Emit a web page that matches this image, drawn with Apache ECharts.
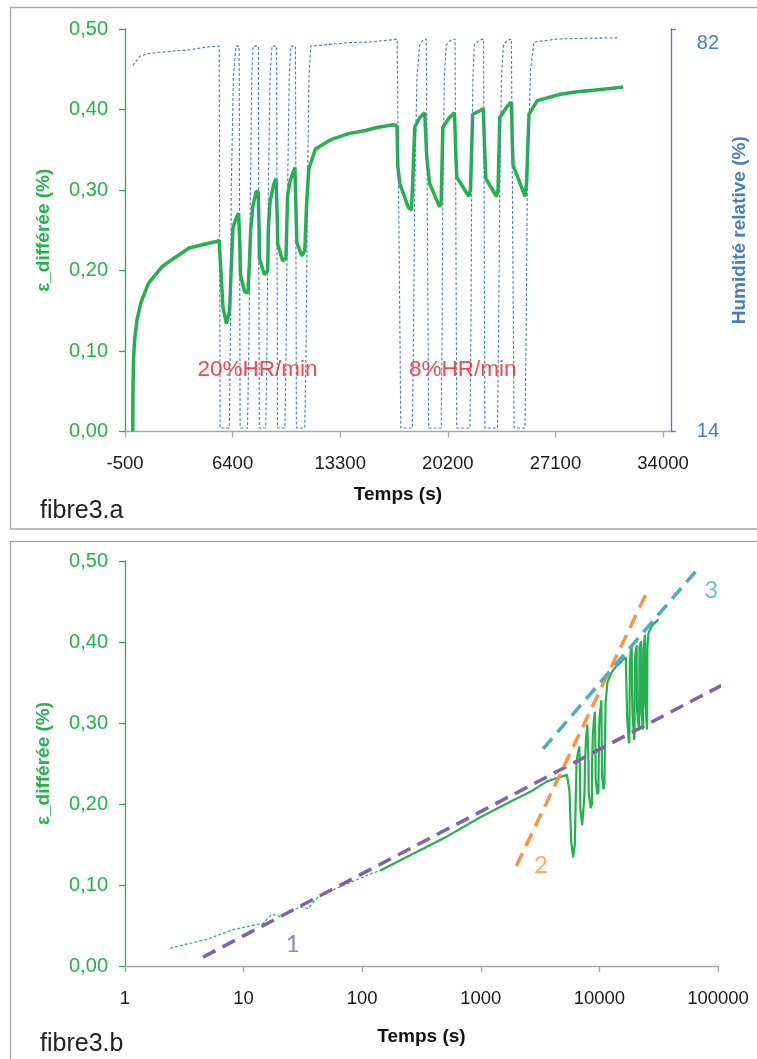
<!DOCTYPE html>
<html><head><meta charset="utf-8">
<script src="https://cdn.jsdelivr.net/npm/echarts@6/dist/echarts.min.js"></script>
<style>html,body{margin:0;padding:0;background:#fff}#c{width:757px;height:1059px}</style>
</head><body><div id="c"></div>
<script>
// ---------- DATA ----------
// Strain (ε_différée, %) versus time (s)
const strainTime = [0, 2.4, 4.9, 8.2, 14.7, 17.3, 20.3, 30, 35, 41.5, 57, 110, 142, 271, 519, 1000, 1890, 2618, 3614, 5330, 5540,
  5600, 5786, 6000, 6206, 6315, 6423, 6600, 6780,
  6860, 6900, 7162, 7378, 7480, 7560, 7700, 7907, 8040,
  8100, 8117, 8436, 8652, 8691, 8800, 9000, 9181, 9230,
  9270, 9290, 9608, 9818, 9926, 10100, 10391, 10440,
  10470, 10518, 10837, 11028, 11150, 11283, 11710, 12748, 13830, 14894, 15741, 16696, 16940,
  16990, 17123, 17652, 17862, 17926, 18079, 18400, 18716, 18800,
  18850, 19034, 19671, 19773, 19881, 20300, 20626, 20680,
  20720, 20773, 21537, 21650, 21792, 22100, 22473, 22530,
  22580, 22639, 23320, 23420, 23530, 23900, 24231, 24290,
  24330, 24384, 25148, 25250, 25403, 25931, 27415, 28480, 29540, 30600, 31450];
const strainValue = [0, 0.022, 0.033, 0.045, 0.053, 0.064, 0.061, 0.073, 0.071, 0.084, 0.094, 0.112, 0.118, 0.139, 0.160, 0.184, 0.205, 0.215, 0.228, 0.236, 0.237,
  0.215, 0.154, 0.134, 0.150, 0.205, 0.253, 0.264, 0.271,
  0.235, 0.195, 0.174, 0.172, 0.211, 0.250, 0.280, 0.298, 0.298,
  0.250, 0.215, 0.195, 0.200, 0.253, 0.285, 0.305, 0.314, 0.313,
  0.260, 0.233, 0.212, 0.215, 0.294, 0.312, 0.328, 0.326,
  0.270, 0.235, 0.218, 0.225, 0.285, 0.326, 0.351, 0.363, 0.370, 0.374, 0.378, 0.381, 0.380,
  0.330, 0.308, 0.279, 0.275, 0.300, 0.378, 0.390, 0.396, 0.395,
  0.340, 0.308, 0.279, 0.285, 0.378, 0.390, 0.396, 0.394,
  0.340, 0.316, 0.292, 0.300, 0.394, 0.397, 0.401, 0.399,
  0.340, 0.314, 0.292, 0.300, 0.390, 0.401, 0.409, 0.406,
  0.360, 0.331, 0.292, 0.310, 0.394, 0.411, 0.419, 0.422, 0.424, 0.426, 0.428];

// Relative humidity (%) versus time (s)
const rhTime = [0, 452, 1089, 2366, 3640, 4914, 5540,
  5600, 6188, 6250, 6315, 6450, 6614, 6820,
  6880, 7353, 7440, 7544, 7630, 7716, 8050,
  8110, 8525, 8600, 8691, 8800, 8926, 9220,
  9280, 9754, 9830, 9926, 10030, 10136, 10430,
  10490, 11028, 11110, 11200, 11300, 11410, 12600, 13870, 15140, 16730, 16950,
  17186, 17925, 18000, 18078, 18220, 18397, 18600, 18818,
  18970, 19773, 19830, 19881, 19980, 20091, 20400, 20664,
  20773, 21620, 21680, 21728, 21810, 21900, 22200, 22492,
  22575, 23384, 23450, 23530, 23640, 23766, 24000, 24275,
  24447, 25148, 25220, 25294, 25500, 25721, 27205, 28479, 31071];
const rhValue = [75.8, 77.4, 77.9, 78.2, 78.5, 79.0, 79.1,
  14.6, 14.6, 28, 55, 74, 79.1, 79.1,
  14.6, 14.6, 28, 55, 74, 79.1, 79.1,
  14.6, 14.6, 28, 55, 74, 79.1, 79.1,
  14.6, 14.6, 28, 55, 74, 79.1, 79.1,
  14.6, 14.6, 28, 55, 74, 79.1, 79.4, 79.7, 79.8, 80.2, 80.3,
  14.6, 14.6, 30, 55, 74, 79.3, 80.1, 80.3,
  14.6, 14.6, 30, 55, 74, 79.3, 80.1, 80.3,
  14.6, 14.6, 30, 55, 74, 79.3, 80.1, 80.3,
  14.6, 14.6, 30, 55, 74, 79.3, 80.1, 80.3,
  14.6, 14.6, 30, 55, 75, 79.8, 80.3, 80.4, 80.5];

// Fitted log-lines (panel b)
const fit1Time = [4.55, 115700];  const fit1Value = [0.011, 0.349];
const fit2Time = [1995, 25240];   const fit2Value = [0.1235, 0.462];
const fit3Time = [3350, 64570];   const fit3Value = [0.268, 0.487];

// Tick labels
const timeTicksLinear = [-500, 6400, 13300, 20200, 27100, 34000];
const timeTicksLog = [1, 10, 100, 1000, 10000, 100000];
const strainTicks = [0, 0.1, 0.2, 0.3, 0.4, 0.5];
const rhTicks = [14, 82];

// Annotations (data coordinates)
const rateLabels = ['20%HR/min', '8%HR/min'];
const rateLabelTime = [7990, 21155];
const rateLabelValue = [0.0765, 0.0765];
const fitLabels = ['1', '2', '3'];
const fitLabelTime = [25.9, 3221, 87700];
const fitLabelValue = [0.0263, 0.1247, 0.4638];

// ---------- CHART ----------
const FONT = "'Liberation Sans', Arial, sans-serif";
const GREEN = '#25b14f';
const BLUE = '#4a7ebb';
const GREY = '#a6a6a6';
const PURPLE = '#8064a2', ORANGE = '#f79646', CYAN = '#4bacc6';

const zip = (a, b) => a.map((v, i) => [v, b[i]]);
const strainPairs = zip(strainTime, strainValue);
const strainPairsLogEarly = strainPairs.filter(p => p[0] > 0 && p[0] <= 142);
const strainPairsLogLate = strainPairs.filter(p => p[0] >= 142);
const fmtStrain = v => v.toFixed(2).replace('.', ',');

function strainAxis(gridIndex) {
  return {
    type: 'value', gridIndex, min: 0, max: 0.5, interval: 0.1,
    axisLine: { show: true, onZero: false, lineStyle: { color: GREEN, width: 1.3 } },
    axisTick: { show: true, length: 6, lineStyle: { color: GREEN, width: 1.3 }, customValues: strainTicks },
    axisLabel: { color: GREEN, fontSize: 20, fontFamily: FONT, margin: 17, formatter: fmtStrain, customValues: strainTicks },
    splitLine: { show: false },
    name: 'ε_différée (%)', nameLocation: 'middle', nameGap: 72, nameRotate: 90,
    nameTextStyle: { color: GREEN, fontSize: 19, fontWeight: 'bold', fontFamily: FONT }
  };
}

const option = {
  animation: false,
  backgroundColor: '#fff',
  textStyle: { fontFamily: FONT },
  grid: [
    { left: 125, top: 26, width: 549, height: 405.5 },
    { left: 125, top: 561, width: 593, height: 405 }
  ],
  xAxis: [
    {
      type: 'value', gridIndex: 0, min: -500, max: 34500,
      axisLine: { show: true, onZero: false, lineStyle: { color: GREY, width: 1.3 } },
      axisTick: { show: true, length: 6, lineStyle: { color: GREY, width: 1.3 }, customValues: timeTicksLinear },
      axisLabel: { color: '#1a1a1a', fontSize: 18.5, fontFamily: FONT, margin: 23, customValues: timeTicksLinear, formatter: v => String(v) },
      splitLine: { show: false },
      name: 'Temps (s)', nameLocation: 'middle', nameGap: 54,
      nameTextStyle: { color: '#111', fontSize: 19, fontWeight: 'bold', fontFamily: FONT }
    },
    {
      type: 'log', gridIndex: 1, min: 1, max: 100000, logBase: 10,
      axisLine: { show: true, onZero: false, lineStyle: { color: GREY, width: 1.3 } },
      axisTick: { show: true, length: 6, lineStyle: { color: GREY, width: 1.3 } },
      axisLabel: { color: '#1a1a1a', fontSize: 18.5, fontFamily: FONT, margin: 23, formatter: v => String(Math.round(v)) },
      minorTick: { show: false },
      splitLine: { show: false },
      name: 'Temps (s)', nameLocation: 'middle', nameGap: 61,
      nameTextStyle: { color: '#111', fontSize: 19, fontWeight: 'bold', fontFamily: FONT }
    }
  ],
  yAxis: [
    strainAxis(0),
    {
      type: 'value', gridIndex: 0, position: 'right', min: 14, max: 82,
      axisLine: { show: true, onZero: false, lineStyle: { color: BLUE, width: 1.3 } },
      axisTick: { show: true, length: 5, lineStyle: { color: BLUE, width: 1.3 }, customValues: rhTicks },
      axisLabel: {
        color: BLUE, fontSize: 20, fontFamily: FONT, margin: 26, customValues: rhTicks,
        lineHeight: 29, formatter: v => (v === 82 ? '\n82' : String(v))
      },
      splitLine: { show: false },
      name: 'Humidité relative (%)', nameLocation: 'middle', nameGap: 57, nameRotate: 90,
      nameTextStyle: { color: BLUE, fontSize: 19, fontWeight: 'bold', fontFamily: FONT }
    },
    strainAxis(1)
  ],
  graphic: [
    { type: 'rect', shape: { x: 10.5, y: 7.5, width: 800, height: 521.5 }, style: { fill: 'none', stroke: GREY, lineWidth: 1.3 }, silent: true, z: -10 },
    { type: 'rect', shape: { x: 10.5, y: 541.5, width: 800, height: 600 }, style: { fill: 'none', stroke: GREY, lineWidth: 1.3 }, silent: true, z: -10 },
    { type: 'text', left: 40, top: 499, style: { text: 'fibre3.a', fontSize: 25, fontFamily: FONT, fill: '#222' } },
    { type: 'text', left: 40, top: 1032, style: { text: 'fibre3.b', fontSize: 25, fontFamily: FONT, fill: '#222' } }
  ],
  series: [
    {
      type: 'line', xAxisIndex: 0, yAxisIndex: 0, data: strainPairs, showSymbol: false, z: 2,
      lineStyle: { color: GREEN, width: 3.5 }
    },
    {
      type: 'line', xAxisIndex: 0, yAxisIndex: 1, data: zip(rhTime, rhValue), showSymbol: false, z: 3,
      lineStyle: { color: BLUE, width: 1.1, type: [3, 2] }
    },
    {
      type: 'scatter', xAxisIndex: 0, yAxisIndex: 0, symbolSize: 0, z: 5,
      data: rateLabels.map((t, i) => ({ value: [rateLabelTime[i], rateLabelValue[i]], name: t })),
      label: { show: true, position: 'inside', formatter: p => p.name, color: '#ee1c25', fontSize: 22.5, fontFamily: FONT }
    },
    {
      type: 'line', xAxisIndex: 1, yAxisIndex: 2, data: strainPairsLogEarly, showSymbol: false, z: 2,
      lineStyle: { color: GREEN, width: 1.2, type: [3, 2] }
    },
    {
      type: 'line', xAxisIndex: 1, yAxisIndex: 2, data: strainPairsLogLate, showSymbol: false, z: 2,
      lineStyle: { color: GREEN, width: 2.2 }
    },
    {
      type: 'line', xAxisIndex: 1, yAxisIndex: 2, data: zip(fit1Time, fit1Value), showSymbol: false, z: 4,
      lineStyle: { color: PURPLE, width: 3.5, type: [14, 8] }
    },
    {
      type: 'line', xAxisIndex: 1, yAxisIndex: 2, data: zip(fit2Time, fit2Value), showSymbol: false, z: 4,
      lineStyle: { color: ORANGE, width: 3.5, type: [14, 8] }
    },
    {
      type: 'line', xAxisIndex: 1, yAxisIndex: 2, data: zip(fit3Time, fit3Value), showSymbol: false, z: 4,
      lineStyle: { color: CYAN, width: 3.5, type: [14, 8] }
    },
    {
      type: 'scatter', xAxisIndex: 1, yAxisIndex: 2, symbolSize: 0, z: 5,
      data: fitLabels.map((t, i) => ({
        value: [fitLabelTime[i], fitLabelValue[i]], name: t,
        label: { color: [PURPLE, ORANGE, CYAN][i] }
      })),
      label: { show: true, position: 'inside', formatter: p => p.name, fontSize: 24, fontFamily: "Lato, 'Open Sans', sans-serif" }
    }
  ]
};

const chart = echarts.init(document.getElementById('c'), null, { renderer: 'canvas' });
chart.setOption(option);
</script>
</body></html>
